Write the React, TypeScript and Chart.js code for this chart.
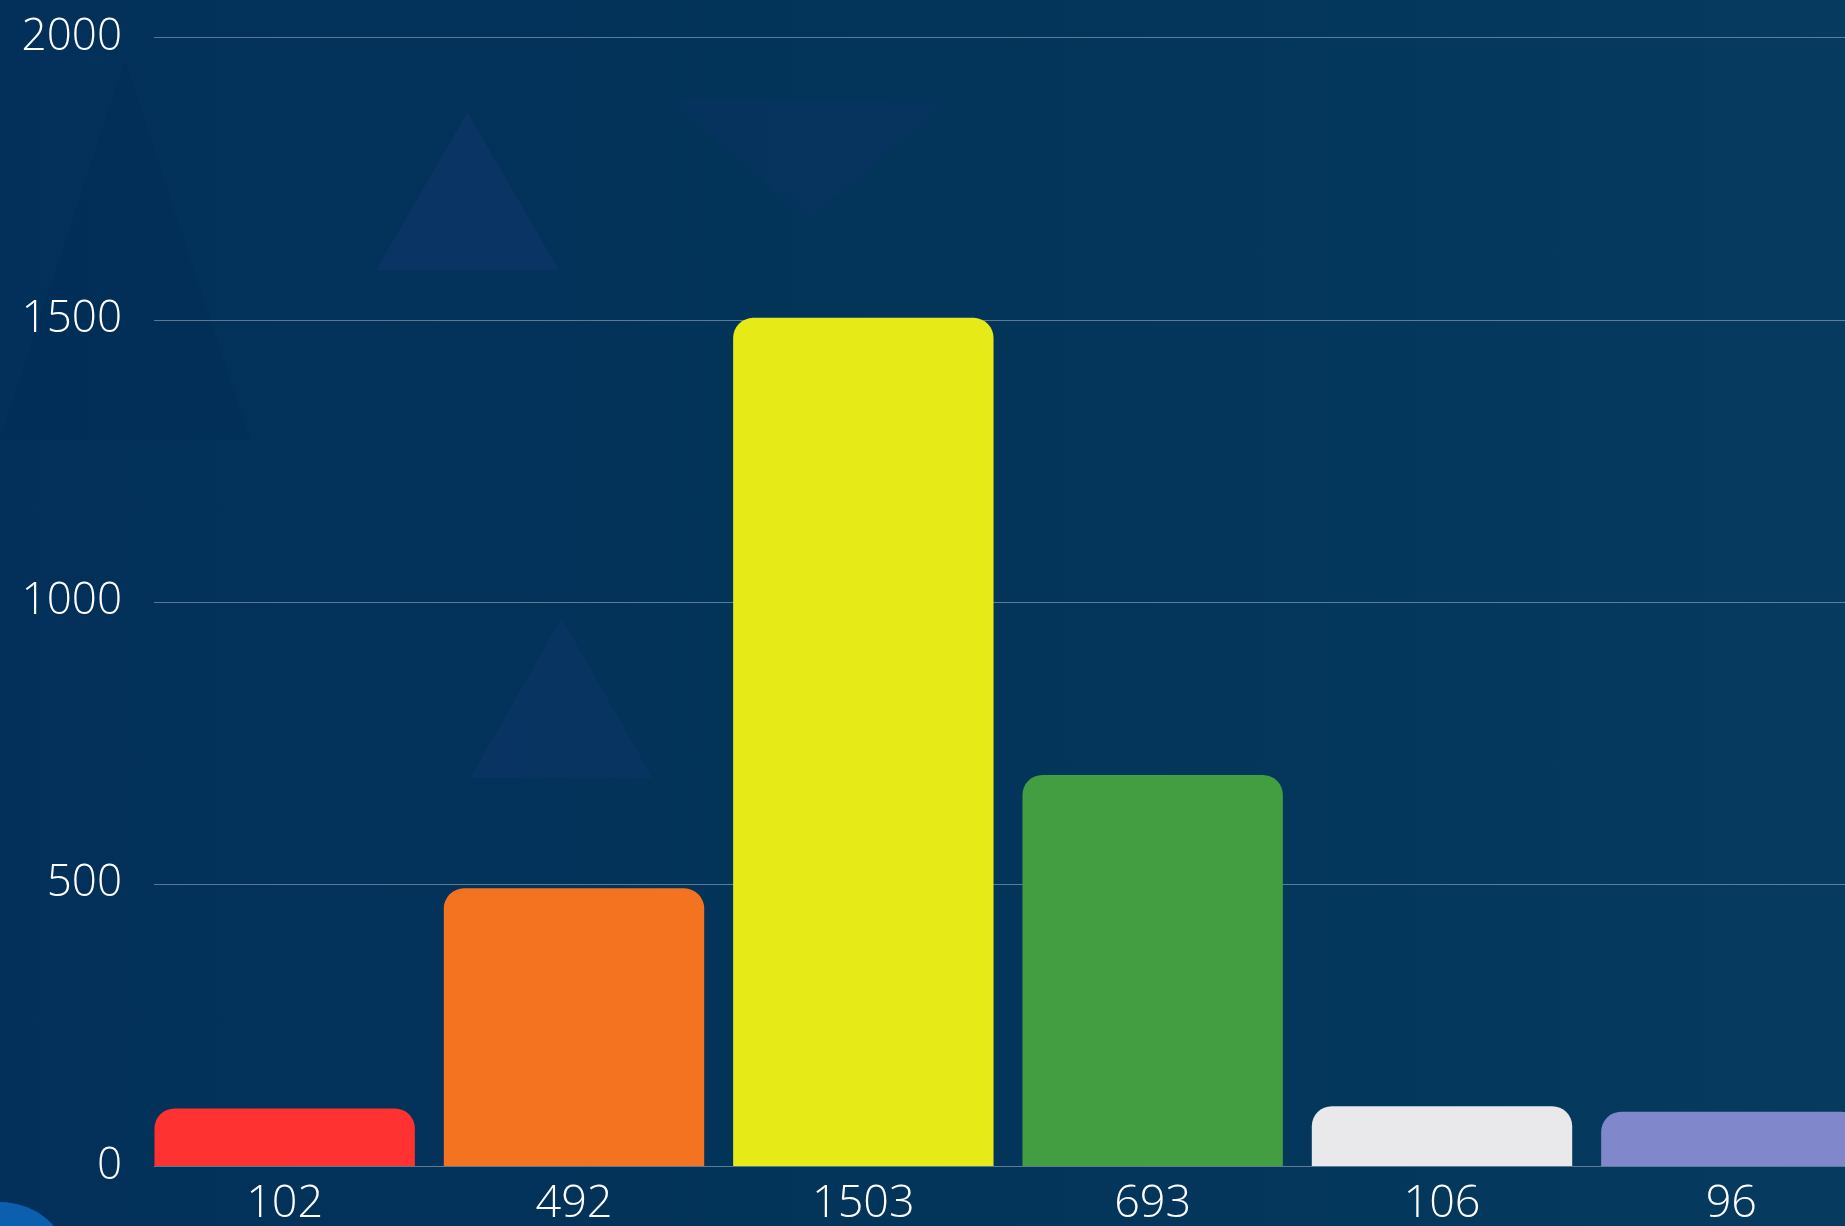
import React, { useEffect, useRef } from "react";
import { Chart, registerables } from "chart.js";

Chart.register(...registerables);

const categories: string[] = ["102", "492", "1503", "693", "106", "96"];
const values: number[] = [102, 492, 1503, 693, 106, 96];
const barColors: string[] = ["#ff3232", "#f37321", "#e6eb17", "#439e42", "#e9e9eb", "#8088cb"];
const yTickValues: number[] = [0, 500, 1000, 1500, 2000];

const FONT = "'Open Sans', 'Noto Sans', sans-serif";

const gridPlugin = {
  id: "customGrid",
  beforeDatasetsDraw(chart: any) {
    const { ctx, chartArea, scales } = chart;
    const y = scales.y;
    ctx.save();
    ctx.strokeStyle = "rgba(200,210,225,0.45)";
    ctx.lineWidth = 1;
    for (const v of yTickValues) {
      const py = Math.round(y.getPixelForValue(v)) + 0.5;
      ctx.beginPath();
      ctx.moveTo(chartArea.left + 14, py);
      ctx.lineTo(chartArea.right, py);
      ctx.stroke();
    }
    ctx.restore();
  },
};

const triangles = [
  { l: 376, t: 112, w: 183, h: 158, c: "rgba(20,55,115,0.40)" },
  { l: 470, t: 618, w: 183, h: 160, c: "rgba(20,55,115,0.35)" },
  { l: 670, t: 100, w: 280, h: 120, c: "rgba(15,50,110,0.25)", inv: true },
  { l: 0, t: 60, w: 250, h: 380, c: "rgba(0,35,80,0.14)" },
];

export default function App() {
  const canvasRef = useRef<HTMLCanvasElement | null>(null);

  useEffect(() => {
    document.body.style.margin = "0";
    document.body.style.overflow = "hidden";
    const canvas = canvasRef.current;
    if (!canvas) return;
    const chart = new Chart(canvas, {
      type: "bar",
      data: {
        labels: categories,
        datasets: [
          {
            data: values,
            backgroundColor: barColors,
            borderWidth: 0,
            borderRadius: 20,
            borderSkipped: "bottom",
            categoryPercentage: 1,
            barPercentage: 0.9,
          },
        ],
      },
      options: {
        responsive: false,
        animation: false,
        devicePixelRatio: 1,
        layout: { padding: { top: 25, right: 24, bottom: 0, left: 0 } },
        plugins: {
          legend: { display: false },
          tooltip: { enabled: false },
          title: { display: false },
        },
        scales: {
          x: {
            grid: { display: false, drawTicks: false },
            border: { display: false },
            ticks: {
              color: "#ffffff",
              padding: 11,
              font: { family: FONT, size: 45, weight: "300" as any },
              maxRotation: 0,
            },
          },
          y: {
            min: 0,
            max: 2000,
            afterFit: (s: any) => {
              s.width = 140;
            },
            afterBuildTicks: (s: any) => {
              s.ticks = yTickValues.map((v) => ({ value: v }));
            },
            grid: { display: false, drawTicks: false },
            border: { display: false },
            ticks: {
              color: "#ffffff",
              padding: 18,
              font: { family: FONT, size: 44, weight: "300" as any },
              callback: (v: any) => String(v),
            },
          },
        },
      },
      plugins: [gridPlugin],
    });
    return () => chart.destroy();
  }, []);

  return (
    <div
      style={{
        position: "fixed",
        left: 0,
        top: 0,
        width: "100vw",
        height: "100vh",
        overflow: "hidden",
        background: "linear-gradient(90deg, #02305a 0%, #033459 45%, #063a5f 100%)",
      }}
    >
      {triangles.map((t, i) => (
        <div
          key={i}
          style={{
            position: "absolute",
            left: t.l,
            top: t.t,
            width: t.w,
            height: t.h,
            background: t.c,
            clipPath: t.inv ? "polygon(0 0, 100% 0, 50% 100%)" : "polygon(50% 0, 100% 100%, 0 100%)",
          }}
        />
      ))}
      <div
        style={{
          position: "absolute",
          left: -73,
          top: 1202,
          width: 146,
          height: 146,
          borderRadius: "50%",
          background: "#0a5fae",
        }}
      />
      <canvas
        ref={canvasRef}
        width={1900}
        height={1249}
        style={{ position: "absolute", left: 0, top: -7, width: 1900, height: 1249 }}
      />
    </div>
  );
}
